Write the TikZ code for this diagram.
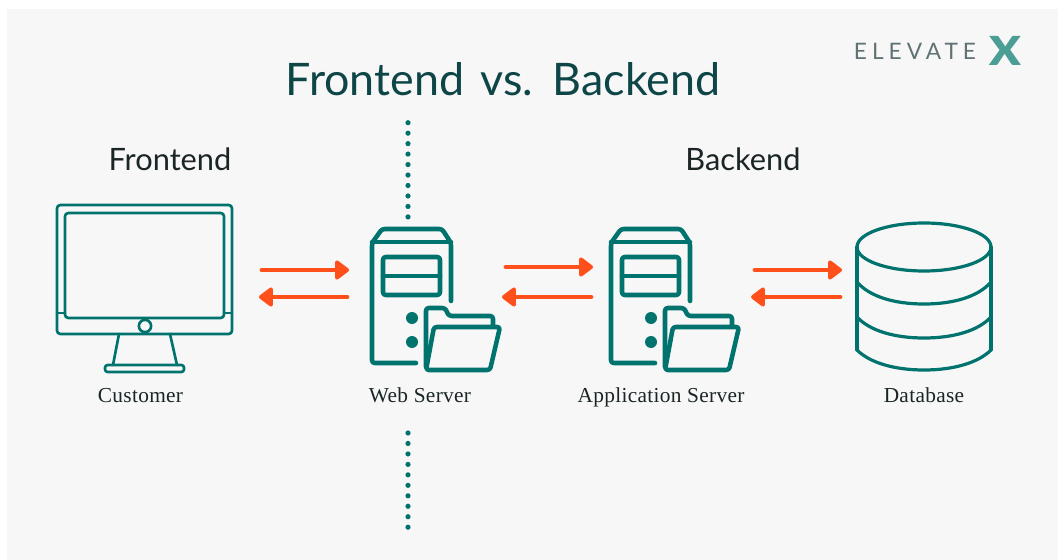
\documentclass[tikz,border=0pt]{standalone}
\usepackage{fontspec}
\setmainfont{Liberation Serif}
\newfontfamily\headfont{Lato}
\newfontfamily\titlefont[WordSpace=1.4]{Lato}
\newfontfamily\capfont[LetterSpace=1.5]{Liberation Serif}
\newfontfamily\logofont[LetterSpace=22]{Lato}
\newfontfamily\logoxfont{Lato Black}
\definecolor{panel}{HTML}{F7F7F7}
\definecolor{teal}{HTML}{00736F}
\definecolor{orangered}{HTML}{FF4F1A}
\definecolor{headink}{HTML}{0E4547}
\definecolor{capink}{HTML}{1B2526}
\definecolor{logoink}{HTML}{5F7274}
\definecolor{logox}{HTML}{4A9E96}
\usetikzlibrary{arrows.meta}
\begin{document}
\begin{tikzpicture}[x=0.75pt,y=-0.75pt,
  icon/.style={draw=teal,line width=2pt,line join=round,line cap=round},
  dbicon/.style={icon,line width=2.4pt},
  servericon/.style={icon,line width=3.4pt},
  flowarrow/.style={draw=orangered,line width=3.6pt,line cap=round,
    -{Triangle[length=11.5pt,width=16.5pt,round]}},
  divider/.style={draw=teal,line width=3.9pt,line cap=round,dash pattern=on 0pt off 7.85pt},
  title/.style={font=\titlefont\fontsize{33.6}{38}\selectfont,text=headink,inner sep=0pt},
  heading/.style={font=\headfont\fontsize{23.1}{26}\selectfont,text=capink,inner sep=0pt},
  caption/.style={font=\capfont\fontsize{16}{19}\selectfont,text=capink,inner sep=0pt,anchor=base}
]
\useasboundingbox (0,0) rectangle (1058,560);
\fill[white] (0,0) rectangle (1058,560);
\fill[panel] (7,9) rectangle (1058,560);

\node[title] (titlelabel) at (503,79) {Frontend vs. Backend};
\node[heading] (frontendlabel) at (170,159) {Frontend};
\node[heading] (backendlabel) at (743,159) {Backend};
\node[caption] (customerlabel) at (140.5,402) {Customer};
\node[caption] (webserverlabel) at (420,402) {Web Server};
\node[caption] (appserverlabel) at (661,402) {Application Server};
\node[caption] (databaselabel) at (924,402) {Database};

\node[font=\logofont\fontsize{17}{20}\selectfont,text=logoink,inner sep=0pt] (logotext) at (915,51) {ELEVATE};
\node[font=\logoxfont\fontsize{30}{32}\selectfont,text=logox,inner sep=0pt,xscale=1.15,transform shape] (logox) at (1005,51) {X};

% divider
\coordinate (da) at (408,122.7); \coordinate (db) at (408,217);
\coordinate (dc) at (408,433); \coordinate (dd) at (408,528);
\draw[divider] (da) -- (db);
\draw[divider] (dc) -- (dd);

% monitor
\draw[icon,rounded corners=2.5pt] (57,205) rectangle (232,334);
\draw[icon,rounded corners=2.5pt] (65,213) rectangle (224,318);
\draw[icon] (57,313) -- (65,313) (224,313) -- (232,313);
\draw[icon,fill=panel] (145,326) circle (4.6pt);
\draw[icon] (119,334) -- (113,365) (170,334) -- (177,365);
\draw[icon,rounded corners=2pt] (105,365) rectangle (184,372);

% servers
\newcommand{\serverpic}[1]{%
 \begin{scope}[xshift=#1*0.75pt]
  \draw[servericon,rounded corners=2pt] (451,301) -- (451,243) -- (442,229) -- (382,229) -- (372,243) -- (372,363) -- (416,363);
  \draw[servericon] (372,242) -- (451,242);
  \draw[servericon,rounded corners=2pt] (383,257) rectangle (440,295);
  \draw[servericon] (383,276) -- (440,276);
  \fill[teal] (412,318) circle (4.5pt) (412,342) circle (4.5pt);
  \draw[servericon,rounded corners=2pt] (426,367) -- (426,308) -- (445,308) -- (449,316) -- (493,316) -- (493,326);
  \draw[servericon,rounded corners=2pt] (434,327) -- (500,327) -- (490,370) -- (426,370) -- cycle;
 \end{scope}}
\serverpic{0}
\serverpic{239}

% database
\draw[dbicon] (924,247) ellipse [x radius=67,y radius=24];
\draw[dbicon] (857,247) -- (857,350) (991,247) -- (991,350);
\draw[dbicon] (857,282) .. controls (870,297) and (895,304) .. (924,304) .. controls (953,304) and (978,297) .. (991,282);
\draw[dbicon] (857,317) .. controls (870,331) and (895,338) .. (924,338) .. controls (953,338) and (978,331) .. (991,317);
\draw[dbicon] (857,350) .. controls (870,363) and (895,370) .. (924,370) .. controls (953,370) and (978,363) .. (991,350);

% arrows
\coordinate (a1s) at (262,270); \coordinate (a1e) at (349,270);
\coordinate (b1s) at (347,297); \coordinate (b1e) at (259,297);
\coordinate (a2s) at (506,267); \coordinate (a2e) at (593,267);
\coordinate (b2s) at (591,297); \coordinate (b2e) at (502,297);
\coordinate (a3s) at (755,270); \coordinate (a3e) at (842,270);
\coordinate (b3s) at (840,297); \coordinate (b3e) at (751,297);
\foreach \p/\q in {a1s/a1e,b1s/b1e,a2s/a2e,b2s/b2e,a3s/a3e,b3s/b3e}
  \draw[flowarrow] (\p) -- (\q);
\end{tikzpicture}
\end{document}
